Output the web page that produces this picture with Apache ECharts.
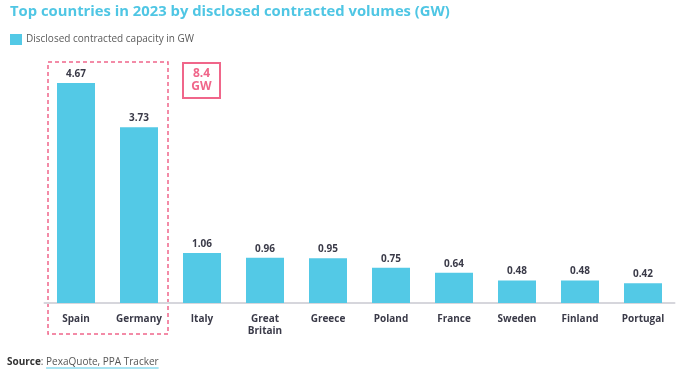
<!DOCTYPE html>
<html>
<head>
<meta charset="utf-8">
<script src="https://cdn.jsdelivr.net/npm/echarts@6/dist/echarts.min.js"></script>
<style>
html,body{margin:0;padding:0;background:#fff;}
#c{width:679px;height:370px;}
</style>
</head>
<body>
<div id="c"></div>
<script>
var categories = ['Spain', 'Germany', 'Italy', 'Great\nBritain', 'Greece', 'Poland', 'France', 'Sweden', 'Finland', 'Portugal'];
var capacity = [4.67, 3.73, 1.06, 0.96, 0.95, 0.75, 0.64, 0.48, 0.48, 0.42];
var seriesName = 'Disclosed contracted capacity in GW';
var totalLabel = '8.4\nGW';
var sourceLabel = 'Source';
var sourceText = 'PexaQuote, PPA Tracker';

var FONT = '"Open Sans", "DejaVu Sans", sans-serif';
var BLUE = '#53c9e6';
var PINK = '#f0668a';

// measure source text to place underline
var ctx = document.createElement('canvas').getContext('2d');
ctx.font = 'bold 10px ' + FONT;
var wBold = ctx.measureText(sourceLabel).width;
ctx.font = '10px ' + FONT;
var wColon = ctx.measureText(': ').width;
var wLink = ctx.measureText(sourceText).width;
var srcX = 7;
var ulX1 = srcX + wBold + wColon;
var ulX2 = ulX1 + wLink;

var chart = echarts.init(document.getElementById('c'), null, {renderer: 'canvas'});
chart.setOption({
  animation: false,
  textStyle: {fontFamily: FONT},
  title: {
    text: 'Top countries in 2023 by disclosed contracted volumes (GW)',
    left: 5, top: -1,
    textStyle: {color: '#4fc6e4', fontSize: 14.8, fontWeight: 'bold', fontFamily: FONT}
  },
  legend: {
    left: 5, top: 29,
    itemWidth: 12, itemHeight: 11, itemGap: 4,
    icon: 'rect',
    textStyle: {color: '#5a5a5a', fontSize: 10, fontFamily: FONT, padding: [0, 0, 0, -1]},
    data: [seriesName]
  },
  grid: {left: 44.5, right: 4.5, top: 67.5, bottom: 67},
  xAxis: {
    type: 'category',
    data: categories,
    axisLine: {lineStyle: {color: '#d6d6dc', width: 2}},
    axisTick: {show: false},
    axisLabel: {color: '#3a3a48', fontSize: 10, fontWeight: 'bold', margin: 10, lineHeight: 12, interval: 0, fontFamily: FONT}
  },
  yAxis: {
    type: 'value', min: 0, max: 5,
    show: false,
    splitLine: {show: false}
  },
  series: [{
    name: seriesName,
    type: 'bar',
    data: capacity,
    barWidth: 38,
    itemStyle: {color: BLUE},
    label: {
      show: true, position: 'top', distance: 4,
      color: '#3a3a48', fontSize: 10, fontWeight: 'bold', fontFamily: FONT,
      formatter: function (p) { return p.value.toFixed(2); }
    }
  }],
  graphic: [
    {type: 'rect', shape: {x: 48, y: 62, width: 120, height: 272},
     style: {fill: 'none', stroke: PINK, lineWidth: 1.5, lineDash: [4, 3]}},
    {type: 'rect', shape: {x: 183, y: 63, width: 37, height: 35},
     style: {fill: '#fff', stroke: PINK, lineWidth: 2}},
    {type: 'text', x: 201.5, y: 80.5,
     style: {text: totalLabel, fill: PINK, font: 'bold 12px ' + FONT, align: 'center', verticalAlign: 'middle', lineHeight: 13}},
    {type: 'text', x: srcX, y: 362,
     style: {
       text: '{b|' + sourceLabel + '}{n|: ' + sourceText + '}',
       verticalAlign: 'middle',
       rich: {
         b: {fontWeight: 'bold', fontSize: 10, fill: '#333', fontFamily: FONT},
         n: {fontSize: 10, fill: '#555', fontFamily: FONT}
       }
     }},
    {type: 'line', shape: {x1: ulX1, y1: 368, x2: ulX2, y2: 368},
     style: {stroke: BLUE, lineWidth: 1}}
  ]
});
</script>
</body>
</html>
